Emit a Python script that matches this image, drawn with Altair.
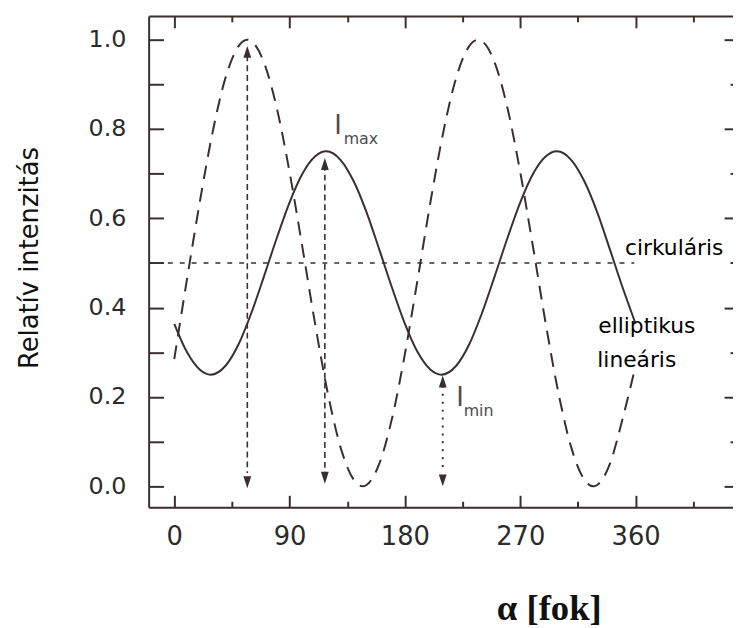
import altair as alt
import pandas as pd

# ---- data ----
# linear polarisation (dashed)
lin_x = [0, 10, 20, 30, 40, 50, 57, 60, 70, 80, 90, 100, 110, 120, 130, 140, 147, 150, 160, 170,
         180, 190, 200, 210, 220, 230, 237, 240, 250, 260, 270, 280, 290, 300, 310, 320, 327, 330, 340, 350, 360]
lin_y = [0.285, 0.465, 0.638, 0.794, 0.915, 0.985, 1.0, 0.997, 0.949, 0.847, 0.703, 0.535, 0.362, 0.206, 0.085, 0.015, 0.0, 0.003, 0.051, 0.153,
         0.297, 0.465, 0.638, 0.794, 0.915, 0.985, 1.0, 0.997, 0.949, 0.847, 0.703, 0.535, 0.362, 0.206, 0.085, 0.015, 0.0, 0.003, 0.051, 0.153, 0.270]
# elliptical polarisation (solid)
ell_x = [0, 10, 20, 28.5, 40, 50, 60, 70, 80, 90, 100, 110, 118.5, 130, 140, 150, 160, 170, 180, 190,
         200, 208.5, 220, 230, 240, 250, 260, 270, 280, 290, 298.5, 310, 320, 330, 340, 350, 360]
ell_y = [0.364, 0.300, 0.261, 0.250, 0.270, 0.317, 0.387, 0.470, 0.556, 0.636, 0.700, 0.739, 0.750, 0.730, 0.683, 0.614, 0.530, 0.444, 0.364, 0.300,
         0.261, 0.250, 0.270, 0.317, 0.387, 0.470, 0.556, 0.636, 0.700, 0.739, 0.750, 0.730, 0.683, 0.614, 0.530, 0.444, 0.364]
# circular polarisation (dotted)
circ_start, circ_end, circ_level = -5, 359, 0.5

# arrows
dash_arrow_x = [57, 117.5]
dash_arrow_top = [0.965, 0.72]
dash_arrow_bot = [0.03, 0.025]
dot_arrow_x = [209.5]
dot_arrow_top = [0.225]
dot_arrow_bot = [0.03]
head_x = [57, 117.5, 209.5]
head_up_y = [0.986, 0.735, 0.248]
head_down_y = [-0.004, 0.006, 0.0]

# annotations
big_I_x = [124.8, 220.0]
big_I_y = [0.789, 0.180]
sub_x = [132.2, 225.8]
sub_y = [0.767, 0.157]
sub_text = ["max", "min"]
lab_x = [351.7, 330.9, 330.1]
lab_y = [0.517, 0.344, 0.268]
lab_text = ["cirkuláris", "elliptikus", "lineáris"]

x_major = [0, 90, 180, 270, 360]
x_minor = [45, 135, 225, 315, 405]
y_all = [0.0, 0.1, 0.2, 0.3, 0.4, 0.5, 0.6, 0.7, 0.8, 0.9, 1.0]
y_major = [0.0, 0.2, 0.4, 0.6, 0.8, 1.0]
y_minor = [0.1, 0.3, 0.5, 0.7, 0.9]

INK = "#3a2f2f"
GREY = "#4d4d4d"
FONT = "DejaVu Sans"

XS = alt.Scale(domain=[-20, 436], nice=False, zero=False)
YS = alt.Scale(domain=[-0.0466, 1.0532], nice=False, zero=False)


def ax(orient, values, size, **kw):
    d = dict(orient=orient, values=values, tickSize=alt.ExprRef(str(-size)), tickColor=INK,
             tickWidth=2, domain=False, grid=False, labels=False, title=None)
    d.update(kw)
    return alt.Axis(**d)


FRAME = dict(domain=True, domainColor=INK, domainWidth=2)

ax_bottom = ax("bottom", x_major, 12, labels=True, labelFont=FONT, labelFontSize=26,
               labelColor="#2b2b2b", labelPadding=29, labelFlush=False, labelOverlap=False,
               title="α [fok]", titleFont="Liberation Serif", titleFontWeight="bold",
               titleFontSize=37, titleColor="#111111", titleX=404, titleY=113,
               titleAlign="center", titleBaseline="alphabetic", **FRAME)
ax_left = ax("left", y_all, 15, labels=True, labelFont=FONT, labelFontSize=24,
             labelColor="#2b2b2b", labelPadding=38, labelOverlap=False,
             labelExpr="round(datum.value*10) % 2 == 0 ? format(datum.value, '.1f') : ''",
             title="Relatív intenzitás", titleFont=FONT, titleFontSize=26,
             titleFontWeight="normal", titleColor="#111111", titleX=-112, titleY=244,
             titleAngle=270, titleAlign="center", titleBaseline="alphabetic", **FRAME)

df_lin = pd.DataFrame({"a": lin_x, "v": lin_y})
df_ell = pd.DataFrame({"a": ell_x, "v": ell_y})
df_circ = pd.DataFrame({"x0": [circ_start], "x1": [circ_end], "y": [circ_level]})
df_darr = pd.DataFrame({"x": dash_arrow_x, "y1": dash_arrow_top, "y2": dash_arrow_bot})
df_oarr = pd.DataFrame({"x": dot_arrow_x, "y1": dot_arrow_top, "y2": dot_arrow_bot})
df_up = pd.DataFrame({"x": head_x, "y": head_up_y})
df_down = pd.DataFrame({"x": head_x, "y": head_down_y})
df_I = pd.DataFrame({"x": big_I_x, "y": big_I_y, "t": ["I", "I"]})
df_sub = pd.DataFrame({"x": sub_x, "y": sub_y, "t": sub_text})
df_lab = pd.DataFrame({"x": lab_x, "y": lab_y, "t": lab_text})

dashed = alt.Chart(df_lin).mark_line(color=INK, strokeWidth=2, strokeDash=[14, 9],
                                     interpolate="monotone").encode(
    x=alt.X("a:Q", scale=XS, axis=ax_bottom),
    y=alt.Y("v:Q", scale=YS, axis=ax_left))

solid = alt.Chart(df_ell).mark_line(color=INK, strokeWidth=2, interpolate="monotone").encode(
    x=alt.X("a:Q", scale=XS, axis=ax("bottom", x_minor, 6)),
    y=alt.Y("v:Q", scale=YS, axis=ax("right", y_major, 9)))

circ = alt.Chart(df_circ).mark_rule(color=INK, strokeWidth=1.6, strokeDash=[5, 7]).encode(
    x=alt.X("x0:Q", scale=XS, axis=ax("top", x_major, 12, **FRAME)),
    x2="x1:Q",
    y=alt.Y("y:Q", scale=YS, axis=ax("right", y_minor, 3)))

darr = alt.Chart(df_darr).mark_rule(color=INK, strokeWidth=1.6, strokeDash=[6, 4]).encode(
    x=alt.X("x:Q", scale=XS, axis=ax("top", x_minor, 6)),
    y=alt.Y("y1:Q", scale=YS, axis=None), y2="y2:Q")

oarr = alt.Chart(df_oarr).mark_rule(color=INK, strokeWidth=2, strokeDash=[2, 6]).encode(
    x=alt.X("x:Q", scale=XS, axis=None),
    y=alt.Y("y1:Q", scale=YS, axis=None), y2="y2:Q")

up = alt.Chart(df_up).mark_point(shape="M0,0L0.33,1L-0.33,1Z", size=576, filled=True,
                                 color=INK, opacity=1).encode(
    x=alt.X("x:Q", scale=XS, axis=None), y=alt.Y("y:Q", scale=YS, axis=None))

down = alt.Chart(df_down).mark_point(shape="M0,0L0.33,-1L-0.33,-1Z", size=576, filled=True,
                                     color=INK, opacity=1).encode(
    x=alt.X("x:Q", scale=XS, axis=None), y=alt.Y("y:Q", scale=YS, axis=None))

bigI = alt.Chart(df_I).mark_text(font=FONT, fontSize=26, color=GREY, fill=GREY, align="left",
                                 baseline="alphabetic").encode(
    x=alt.X("x:Q", scale=XS, axis=None), y=alt.Y("y:Q", scale=YS, axis=None), text="t:N")

subs = alt.Chart(df_sub).mark_text(font=FONT, fontSize=16, color=GREY, fill=GREY, align="left",
                                   baseline="alphabetic").encode(
    x=alt.X("x:Q", scale=XS, axis=None), y=alt.Y("y:Q", scale=YS, axis=None), text="t:N")

labs = alt.Chart(df_lab).mark_text(font=FONT, fontSize=22, color="#000000", fill="#000000",
                                   align="left", baseline="alphabetic").encode(
    x=alt.X("x:Q", scale=XS, axis=None), y=alt.Y("y:Q", scale=YS, axis=None), text="t:N")

chart = alt.layer(dashed, solid, circ, darr, oarr, up, down, bigI, subs, labs).resolve_axis(
    x="independent", y="independent"
).properties(
    width=590, height=496,
    autosize=alt.AutoSizeParams(type="none"),
    padding={"left": 142, "top": 5, "right": 0, "bottom": 119},
    background="white",
).configure_view(strokeWidth=0)

chart.save("out.html", embed_options={"renderer": "svg", "actions": False})
